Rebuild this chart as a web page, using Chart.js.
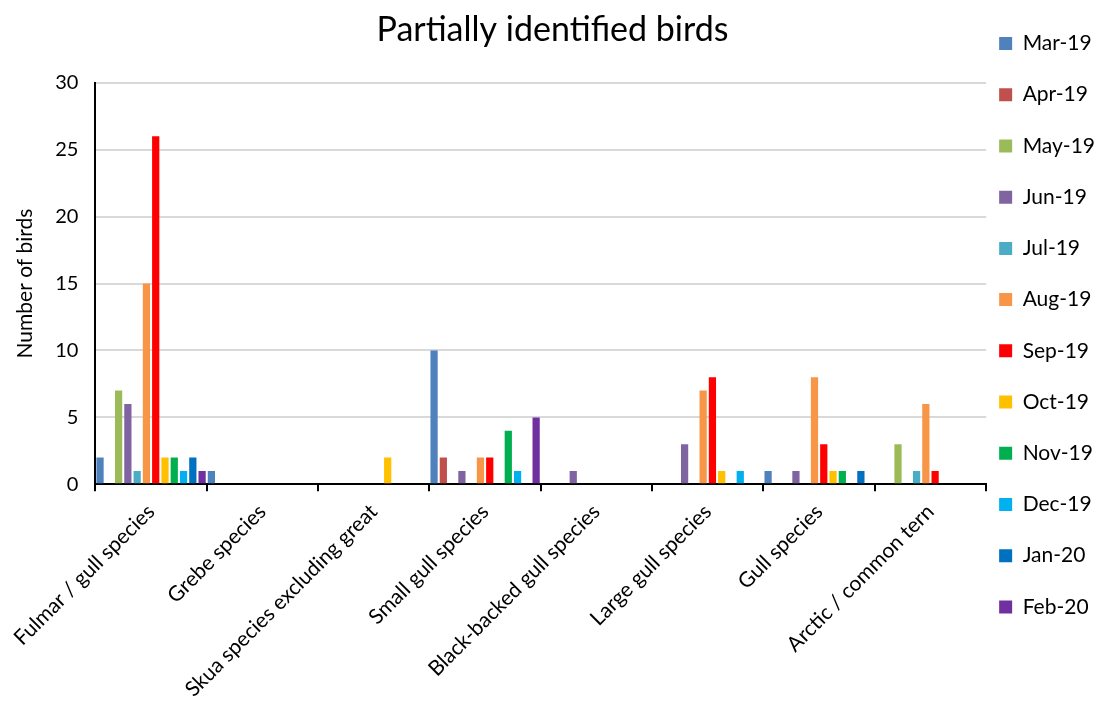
<!DOCTYPE html>
<html>
<head>
<meta charset="utf-8">
<script src="https://cdn.jsdelivr.net/npm/chart.js@4.4.1/dist/chart.umd.min.js"></script>
<style>
  html, body { margin: 0; padding: 0; background: #ffffff; }
  #wrap { width: 1097px; height: 709px; }
</style>
</head>
<body>
<div id="wrap"><canvas id="chart" width="1097" height="709"></canvas></div>
<script>
// Bird groups along the x axis
const categories = [
  'Fulmar / gull species',
  'Grebe species',
  'Skua species excluding great',
  'Small gull species',
  'Black-backed gull species',
  'Large gull species',
  'Gull species',
  'Arctic / common tern'
];

// Monthly survey labels (one series per month)
const months = ['Mar-19', 'Apr-19', 'May-19', 'Jun-19', 'Jul-19', 'Aug-19',
                'Sep-19', 'Oct-19', 'Nov-19', 'Dec-19', 'Jan-20', 'Feb-20'];

// Counts per month, in the order of the categories above
const mar19 = [2, 1, 0, 10, 0, 0, 1, 0];
const apr19 = [0, 0, 0, 2, 0, 0, 0, 0];
const may19 = [7, 0, 0, 0, 0, 0, 0, 3];
const jun19 = [6, 0, 0, 1, 1, 3, 1, 0];
const jul19 = [1, 0, 0, 0, 0, 0, 0, 1];
const aug19 = [15, 0, 0, 2, 0, 7, 8, 6];
const sep19 = [26, 0, 0, 2, 0, 8, 3, 1];
const oct19 = [2, 0, 2, 0, 0, 1, 1, 0];
const nov19 = [2, 0, 0, 4, 0, 0, 1, 0];
const dec19 = [1, 0, 0, 1, 0, 1, 0, 0];
const jan20 = [2, 0, 0, 0, 0, 0, 1, 0];
const feb20 = [1, 0, 0, 5, 0, 0, 0, 0];

const seriesValues = [mar19, apr19, may19, jun19, jul19, aug19,
                      sep19, oct19, nov19, dec19, jan20, feb20];

const seriesColors = ['#4F81BD', '#C0504D', '#9BBB59', '#8064A2', '#4BACC6', '#F79646',
                      '#FF0000', '#FFC000', '#00B050', '#00B0F0', '#0070C0', '#7030A0'];

// Y axis ticks
const yTicks = [0, 5, 10, 15, 20, 25, 30];

const FONT = 'Lato, "Open Sans", "DejaVu Sans", sans-serif';

const datasets = months.map((m, i) => ({
  label: m,
  data: seriesValues[i],
  backgroundColor: seriesColors[i],
  borderWidth: 0,
  barPercentage: 0.78,
  categoryPercentage: 1.0
}));

new Chart(document.getElementById('chart'), {
  type: 'bar',
  data: { labels: categories, datasets: datasets },
  options: {
    responsive: false,
    animation: false,
    devicePixelRatio: 1,
    layout: { padding: { top: 0, right: -8, bottom: -1, left: 0 } },
    plugins: {
      tooltip: { enabled: false },
      title: {
        display: true,
        text: 'Partially identified birds',
        color: '#000000',
        font: { family: FONT, size: 34, weight: 'normal' },
        padding: { top: 10, bottom: 32 }
      },
      legend: {
        display: true,
        position: 'right',
        align: 'start',
        title: {
          display: true,
          text: '',
          font: { size: 10 },
          padding: { top: 8, bottom: 0 }
        },
        labels: {
          color: '#000000',
          boxWidth: 13,
          boxHeight: 13,
          padding: 13,
          font: { family: FONT, size: 21, lineHeight: 1.82 },
          generateLabels: (chart) =>
            Chart.defaults.plugins.legend.labels.generateLabels(chart)
              .map(item => Object.assign({}, item, { text: [item.text], lineWidth: 0 }))
        }
      }
    },
    scales: {
      x: {
        offset: true,
        grid: {
          display: true,
          offset: true,
          drawOnChartArea: false,
          drawTicks: true,
          tickLength: 7,
          color: '#000000',
          lineWidth: 2
        },
        border: { display: true, color: '#000000', width: 2 },
        ticks: {
          color: '#000000',
          font: { family: FONT, size: 21 },
          autoSkip: false,
          minRotation: 45,
          maxRotation: 45,
          padding: 8
        }
      },
      y: {
        min: 0,
        max: 30,
        afterBuildTicks: (scale) => { scale.ticks = yTicks.map(v => ({ value: v })); },
        grid: {
          color: '#D9D9D9',
          lineWidth: 2,
          drawTicks: false
        },
        border: { display: true, color: '#000000', width: 2 },
        ticks: {
          color: '#000000',
          font: { family: FONT, size: 20 },
          padding: 17
        },
        title: {
          display: true,
          text: 'Number of birds',
          color: '#000000',
          font: { family: FONT, size: 21 },
          padding: { top: 13, bottom: 0 }
        }
      }
    }
  }
});
</script>
</body>
</html>
